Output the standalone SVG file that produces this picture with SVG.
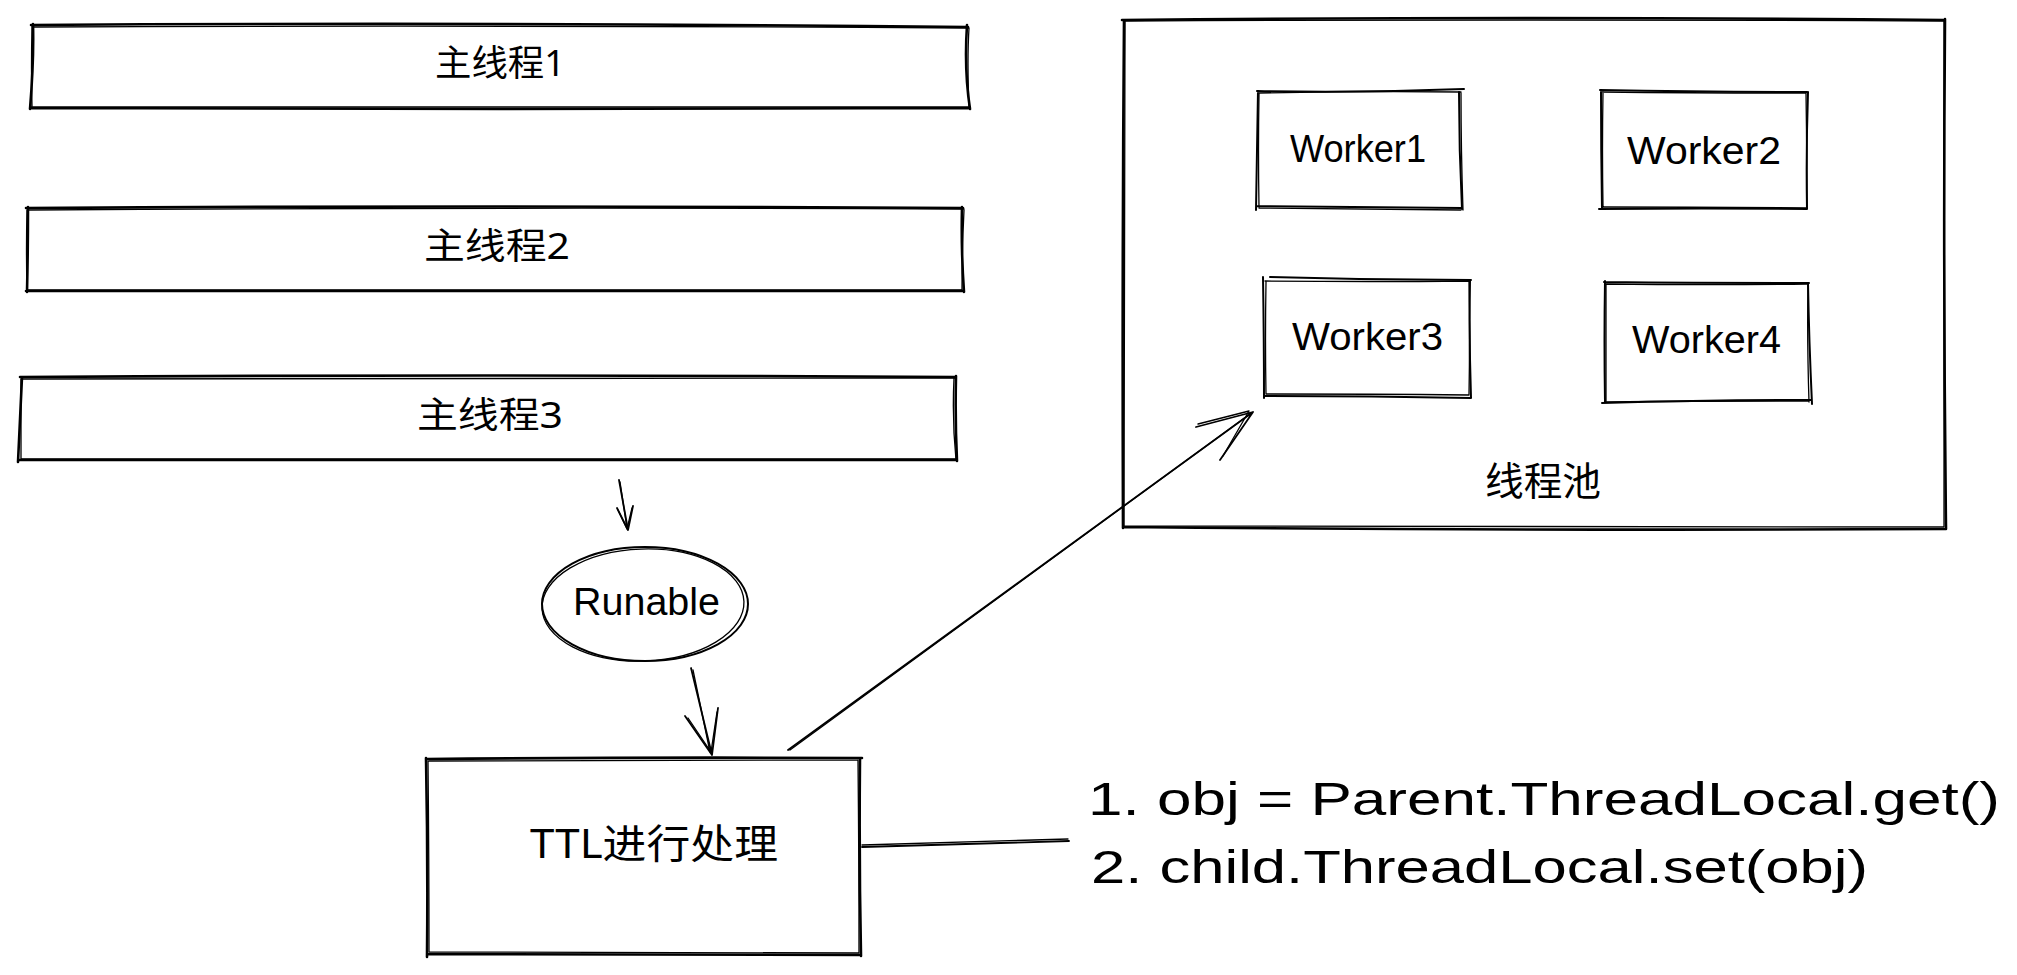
<svg xmlns="http://www.w3.org/2000/svg" width="2017" height="975" viewBox="0 0 2017 975">
<style>
.s{fill:none;stroke:#000;stroke-width:2.6;stroke-linecap:round;stroke-linejoin:round}
.t{fill:none;stroke:#000;stroke-width:1.3;stroke-linecap:round;stroke-linejoin:round}
.w{fill:none;stroke:#000;stroke-width:2;stroke-linecap:round;stroke-linejoin:round}
.a{fill:none;stroke:#000;stroke-width:1.8;stroke-linecap:round;stroke-linejoin:round}
.cjk{font-family:"Noto Sans","Noto Sans CJK SC",sans-serif;font-size:36px;fill:#000}
.lat{font-family:"Liberation Sans","Noto Sans CJK SC",sans-serif;font-size:38px;fill:#000}
.big{font-family:"Liberation Sans","Noto Sans CJK SC",sans-serif;font-size:46px;fill:#000}
</style>
<rect width="2017" height="975" fill="#fff"/>
<g id="main1">
<path class="s" d="M31 25 Q500 22 968 27 M967 25 Q964 70 970 109 M970 108 Q500 110 30 108 M30 109 Q34 60 33 24"/>
<path class="t" d="M33 27 Q480 25 969 28 M969 28 Q967 60 969 107 M968 107 Q520 107 31 107 M32 106 Q31 70 32 26"/>
<text class="cjk" x="500" y="76" text-anchor="middle" textLength="130" lengthAdjust="spacingAndGlyphs">主线程1</text>
</g>
<g id="main2">
<path class="s" d="M26 208 Q500 205 963 208 M962 207 Q961 250 964 292 M964 291 Q500 293 26 291 M27 292 Q28 250 28 207"/>
<path class="t" d="M28 210 Q480 207 964 209 M964 210 Q962 250 962 290 M962 290 Q520 290 27 290 M27 290 Q26 250 27 210"/>
<text class="cjk" x="497" y="259" text-anchor="middle" textLength="146" lengthAdjust="spacingAndGlyphs">主线程2</text>
</g>
<g id="main3">
<path class="s" d="M20 377 Q480 374 956 377 M956 376 Q955 420 957 461 M957 460 Q500 460 20 460 M18 462 Q20 420 22 377"/>
<path class="t" d="M22 379 Q500 378 955 378 M954 378 Q952 420 956 460 M956 459 Q520 458 21 459 M21 459 Q21 420 21 379"/>
<text class="cjk" x="490" y="428" text-anchor="middle" textLength="146" lengthAdjust="spacingAndGlyphs">主线程3</text>
</g>
<g id="pool">
<path class="s" d="M1122 20 Q1530 16 1945 20 M1945 19 Q1943 270 1946 529 M1946 529 Q1530 531 1123 527 M1123 528 Q1122 270 1124 20"/>
<path class="t" d="M1124 21 Q1540 19 1944 21 M1944 21 Q1944 270 1944 527 M1944 527 Q1530 527 1124 526 M1124 526 Q1125 270 1125 22"/>
<text class="cjk" x="1485" y="495" textLength="116" lengthAdjust="spacingAndGlyphs" style="font-size:39px">线程池</text>
</g>
<g id="worker1">
<path class="w" d="M1257 91 Q1360 93 1464 89 M1459 92 Q1459 150 1462 209 M1462 208 Q1360 207 1257 206 M1256 210 Q1257 150 1258 91"/>
<path class="t" d="M1259 93 Q1360 91 1461 92 M1461 93 Q1461 150 1463 210 M1461 210 Q1360 209 1259 208 M1259 207 Q1258 150 1259 94"/>
<text class="lat" x="1290" y="162" textLength="136" lengthAdjust="spacingAndGlyphs">Worker1</text>
</g>
<g id="worker2">
<path class="w" d="M1600 90 Q1700 92 1807 92 M1808 92 Q1806 150 1807 209 M1807 209 Q1700 208 1599 209 M1602 208 Q1601 150 1601 90"/>
<path class="t" d="M1602 92 Q1700 93 1806 93 M1806 93 Q1807 150 1807 208 M1807 208 Q1700 207 1602 207 M1603 206 Q1602 150 1603 92"/>
<text class="lat" x="1627" y="164" textLength="154" lengthAdjust="spacingAndGlyphs">Worker2</text>
</g>
<g id="worker3">
<path class="w" d="M1270 277 Q1370 280 1471 280 M1470 280 Q1469 340 1471 398 M1471 398 Q1370 396 1264 396 M1264 398 Q1264 340 1263 277"/>
<path class="t" d="M1265 281 Q1370 282 1469 281 M1469 282 Q1470 340 1469 395 M1469 395 Q1370 394 1266 394 M1266 394 Q1265 340 1266 282"/>
<text class="lat" x="1292" y="350" textLength="151" lengthAdjust="spacingAndGlyphs">Worker3</text>
</g>
<g id="worker4">
<path class="w" d="M1604 282 Q1710 283 1809 283 M1808 283 Q1809 340 1812 404 M1811 400 Q1710 400 1602 403 M1605 402 Q1604 340 1605 281"/>
<path class="t" d="M1606 284 Q1710 285 1807 284 M1808 285 Q1807 340 1809 402 M1808 401 Q1710 401 1606 402 M1606 401 Q1606 340 1606 285"/>
<text class="lat" x="1632" y="353" textLength="149" lengthAdjust="spacingAndGlyphs">Worker4</text>
</g>
<g id="runable">
<ellipse class="w" cx="645" cy="604" rx="103" ry="57"/>
<ellipse class="t" cx="643" cy="605" rx="101" ry="56" transform="rotate(-2 643 605)"/>
<text class="lat" x="573" y="615" textLength="147" lengthAdjust="spacingAndGlyphs">Runable</text>
</g>
<g id="ttl">
<path class="s" d="M427 759 Q640 757 862 758 M860 758 Q859 860 861 956 M861 955 Q640 954 428 954 M427 957 Q428 860 426 758"/>
<path class="t" d="M429 761 Q640 761 858 760 M858 760 Q859 860 859 953 M859 953 Q640 952 429 952 M429 952 Q429 860 428 761"/>
<text class="cjk" x="530" y="858" textLength="248" lengthAdjust="spacingAndGlyphs" style="font-size:40px">TTL进行处理</text>
</g>
<g id="steps">
<text class="big" x="1088" y="815" textLength="912" lengthAdjust="spacingAndGlyphs">1. obj = Parent.ThreadLocal.get()</text>
<text class="big" x="1091" y="883" textLength="777" lengthAdjust="spacingAndGlyphs">2. child.ThreadLocal.set(obj)</text>
</g>
<g id="connectors">
<path class="a" d="M619 480 L628 530 M617 508 L628 530 L633 506"/>
<path class="t" d="M620 482 L627 528 M618 510 L627 529 L632 508"/>
<path class="a" d="M691 668 L712 755 M685 716 L712 755 L718 708"/>
<path class="t" d="M693 670 L710 752 M688 718 L711 752 L717 712"/>
<path class="a" d="M788 750 L1253 412 M1196 427 L1253 412 L1220 460"/>
<path class="t" d="M790 750 L1250 414 M1198 424 L1249 411 L1223 456"/>
<path class="a" d="M862 847 L1069 841"/>
<path class="t" d="M862 845 L1068 839"/>
</g>
</svg>
